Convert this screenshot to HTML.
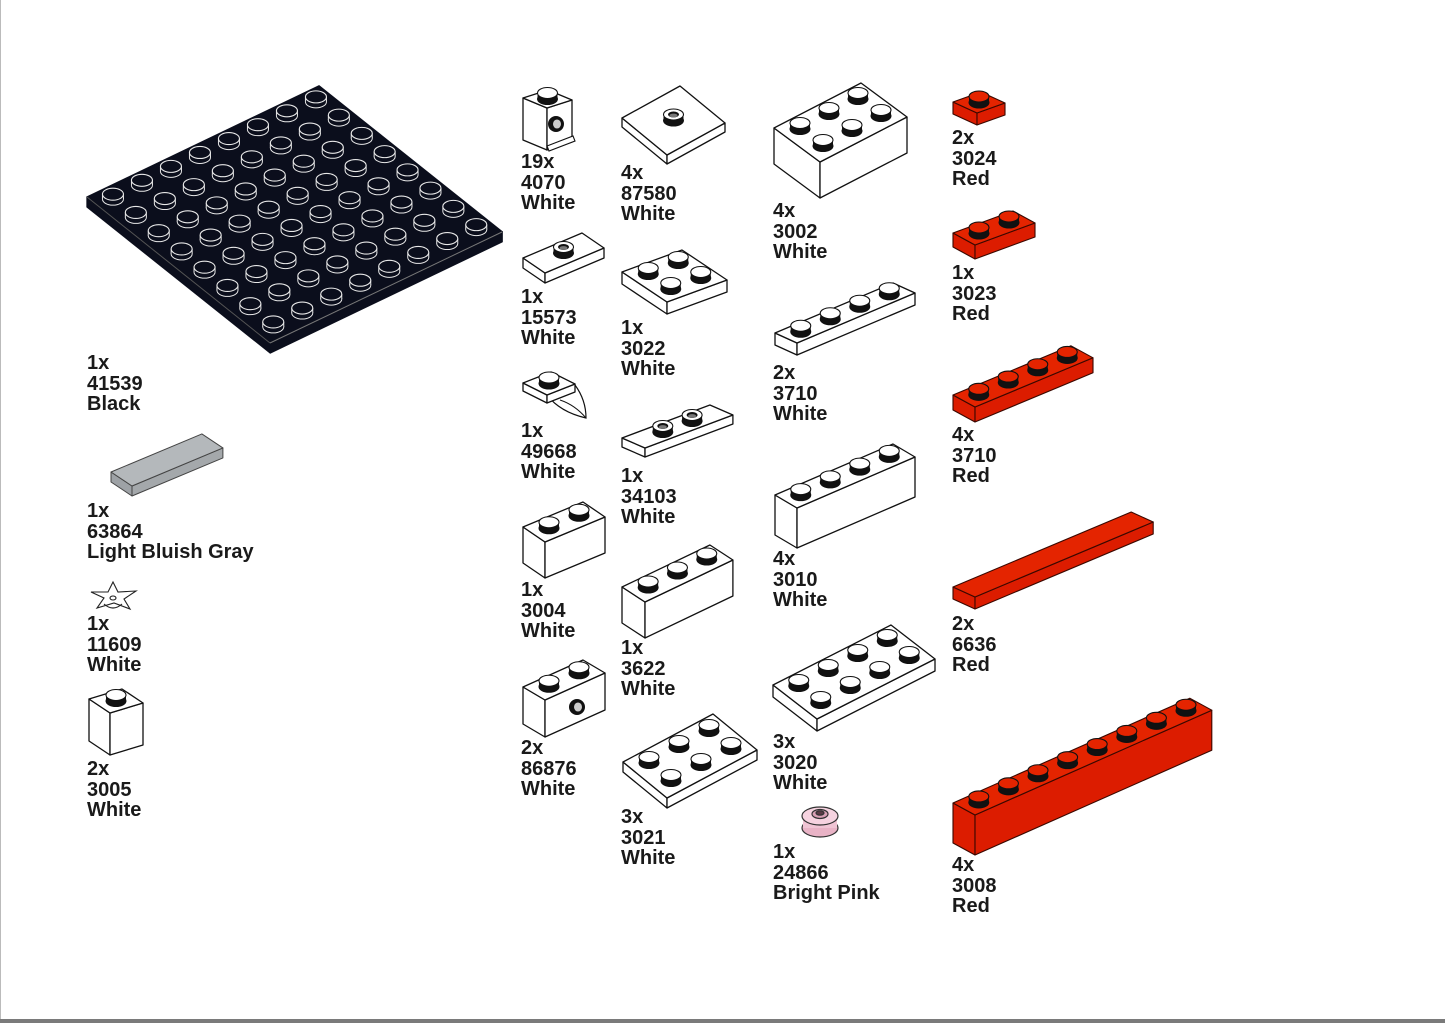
<!DOCTYPE html>
<html><head><meta charset="utf-8">
<style>
html,body{margin:0;padding:0;background:#fff}
body{width:1445px;height:1023px;position:relative;overflow:hidden;font-family:"Liberation Sans",Arial,sans-serif}
.frame{position:absolute;left:0;top:0;width:1px;height:1023px;background:#bbb}
.bot{position:absolute;left:0;top:1019px;width:1445px;height:4px;background:#7a7a7a}
.l{position:absolute;font-size:20px;line-height:20.5px;font-weight:bold;color:#1a1a1a;white-space:nowrap}
svg{position:absolute;left:0;top:0}
</style></head><body>
<div class="frame"></div>
<svg id="s" width="1445" height="1023" viewBox="0 0 1445 1023">
  <g stroke="#222" stroke-width="1.1" fill="#fff">
    <polygon points="113,582 118,592 136,591 124,599 130,609 114,603 97,608 104,598 91,592 108,592"/>
    <ellipse cx="113" cy="598" rx="3" ry="2"/>
    <path d="M104,604 Q113,612 122,604" fill="none"/>
  </g>
  <g stroke="#333" stroke-width="1.2">
    <ellipse cx="820" cy="828" rx="18" ry="9" fill="#e9b3c6"/>
    <rect x="803" y="816" width="34" height="12" fill="#f0c4d4" stroke="none"/>
    <ellipse cx="820" cy="816" rx="18" ry="9" fill="#f6d3e0"/>
    <ellipse cx="820" cy="814" rx="8" ry="4.5" fill="#d9a0b5"/>
    <ellipse cx="820" cy="813" rx="4" ry="2.2" fill="#5a3a45"/>
  </g>
</svg>
<script>
(function(){
var s=document.getElementById('s'),NS='http://www.w3.org/2000/svg';
function el(t,a,parent){var e=document.createElementNS(NS,t);for(var k in a)e.setAttribute(k,a[k]);(parent||s).appendChild(e);return e;}
function ad(p,v,k){return [p[0]+v[0]*k,p[1]+v[1]*k];}
function pts(a){return a.map(function(p){return p[0].toFixed(1)+','+p[1].toFixed(1)}).join(' ');}
function stud(c,o,jumper){
  var rx=o.srx||10,ry=o.sry||5.5,sh=o.sh||6,g=el('g',{});
  var st=o.studStroke||'#111';
  el('ellipse',{cx:c[0],cy:c[1],rx:rx,ry:ry,fill:o.studSide||'#111',stroke:st,'stroke-width':1},g);
  el('rect',{x:c[0]-rx,y:c[1]-sh,width:2*rx,height:sh,fill:o.studSide||'#111'},g);
  if(o.studStroke){el('line',{x1:c[0]-rx,y1:c[1]-sh,x2:c[0]-rx,y2:c[1],stroke:st,'stroke-width':1},g);el('line',{x1:c[0]+rx,y1:c[1]-sh,x2:c[0]+rx,y2:c[1],stroke:st,'stroke-width':1},g);}
  el('ellipse',{cx:c[0],cy:c[1]-sh,rx:rx,ry:ry,fill:o.top,stroke:st,'stroke-width':1.1},g);
  if(jumper){el('ellipse',{cx:c[0],cy:c[1]-sh,rx:rx*0.55,ry:ry*0.55,fill:'#111'},g);el('ellipse',{cx:c[0],cy:c[1]-sh+1,rx:rx*0.4,ry:ry*0.35,fill:'#777'},g);}
}
function part(o){
  var A=o.O,B=ad(A,o.W,o.m),C=ad(B,o.L,o.n),D=ad(A,o.L,o.n);
  var dn=function(p){return [p[0],p[1]+o.h]};
  var sw=o.sw||1.3,st=o.stroke||'#111';
  el('polygon',{points:pts([A,B,dn(B),dn(A)]),fill:o.left||o.top,stroke:st,'stroke-width':sw,'stroke-linejoin':'round'});
  el('polygon',{points:pts([B,C,dn(C),dn(B)]),fill:o.front||o.top,stroke:st,'stroke-width':sw,'stroke-linejoin':'round'});
  el('polygon',{points:pts([A,B,C,D]),fill:o.top,stroke:st,'stroke-width':sw,'stroke-linejoin':'round'});
  var cs=[];
  if(o.jumpers){o.jumpers.forEach(function(t){var c=ad(ad(A,o.W,o.m/2),o.L,t);cs.push([c,1]);});}
  else if(!o.nostuds){for(var i=0;i<o.m;i++)for(var j=0;j<o.n;j++){cs.push([ad(ad(A,o.W,i+.5),o.L,j+.5),0]);}}
  cs.sort(function(a,b){return a[0][1]-b[0][1]});
  cs.forEach(function(c){stud(c[0],o,c[1]);});
}
var W='#fff',R='#dc1c00',RT='#e42400';
part({O:[87,197],W:[22.9,18.25],L:[29,-13.9],m:8,n:8,h:10,top:'#0b0e1c',stroke:'#0b0e1c',studSide:'#0b0e1c',studStroke:'#e8e8e8',srx:10.5,sry:6,sh:5});
el('line',{x1:87,y1:197,x2:270,y2:343,stroke:'#555','stroke-width':1});
el('line',{x1:270,y1:343,x2:502,y2:232,stroke:'#777','stroke-width':1});
part({O:[111,472],W:[21,14],L:[30.3,-12.7],m:1,n:3,h:10,top:'#b4b8bb',left:'#9ea2a6',front:'#a4a8ab',nostuds:1,stroke:'#444',sw:1});
part({O:[89,699],W:[21,14],L:[33,-10],m:1,n:1,h:42,top:W});
part({O:[523,98],W:[24,10],L:[25,-8],m:1,n:1,h:42,top:W});
el('ellipse',{cx:556,cy:124,rx:8,ry:8,fill:'#111'});el('ellipse',{cx:557,cy:124,rx:4.5,ry:5,fill:'#ccc',stroke:'#111'});
el('polygon',{points:'547,146 573,136 575,141 549,151',fill:'#fff',stroke:'#111','stroke-width':1.1});
part({O:[523,258],W:[22,15],L:[29.5,-12.5],m:1,n:2,h:10,top:W,jumpers:[1]});
el('path',{d:'M547,395 L575,385 Q586,400 586,418 Q560,412 547,395 Z',fill:'#fff',stroke:'#111','stroke-width':1.2});
el('path',{d:'M560,400 Q575,405 586,418',fill:'none',stroke:'#111','stroke-width':1});
part({O:[523,383],W:[24,12],L:[28,-11],m:1,n:1,h:8,top:W});
part({O:[523,527],W:[22,15],L:[30,-12.5],m:1,n:2,h:36,top:W});
part({O:[523,687],W:[22,13],L:[30,-13.5],m:1,n:2,h:37,top:W});
el('ellipse',{cx:577,cy:707,rx:8,ry:8,fill:'#111'});el('ellipse',{cx:578,cy:707,rx:4.5,ry:5,fill:'#ccc',stroke:'#111'});
part({O:[622,118],W:[22.5,18.5],L:[29,-16],m:2,n:2,h:9,top:W,jumpers:[1]});
part({O:[622,272],W:[22.5,15],L:[30,-11],m:2,n:2,h:12,top:W});
part({O:[622,438],W:[23,10],L:[29.3,-11],m:1,n:3,h:9,top:W,jumpers:[1,2]});
part({O:[622,587],W:[23,15],L:[29.3,-14],m:1,n:3,h:36,top:W});
part({O:[623,762],W:[22,18],L:[30,-16],m:2,n:3,h:10,top:W});
part({O:[774,128],W:[23,17],L:[29,-15],m:2,n:3,h:36,top:W});
part({O:[775,333],W:[22,10],L:[29.5,-12.5],m:1,n:4,h:12,top:W});
part({O:[775,495],W:[22,13],L:[29.5,-12.75],m:1,n:4,h:40,top:W});
part({O:[773,685],W:[22,17],L:[29.5,-15],m:2,n:4,h:12,top:W});
var ro={top:RT,left:R,front:R,studSide:'#111',stroke:'#3a0800',sw:1.1};
function red(o){for(var k in ro)if(!(k in o))o[k]=ro[k];return part(o);}
red({O:[953,102],W:[24,11],L:[28,-10],m:1,n:1,h:12});
red({O:[953,233],W:[22,12],L:[30,-11],m:1,n:2,h:14});
red({O:[953,395],W:[22,12],L:[29.5,-12.3],m:1,n:4,h:15});
red({O:[953,587],W:[22,10],L:[29.7,-12.5],m:1,n:6,h:12,nostuds:1});
red({O:[953,803],W:[22,12],L:[29.6,-13.1],m:1,n:8,h:40});
})();
</script>
<div class="l" style="left:87px;top:353px">1x<br>41539<br>Black</div>
<div class="l" style="left:87px;top:501px">1x<br>63864<br>Light Bluish Gray</div>
<div class="l" style="left:87px;top:614px">1x<br>11609<br>White</div>
<div class="l" style="left:87px;top:759px">2x<br>3005<br>White</div>
<div class="l" style="left:521px;top:152px">19x<br>4070<br>White</div>
<div class="l" style="left:521px;top:287px">1x<br>15573<br>White</div>
<div class="l" style="left:521px;top:421px">1x<br>49668<br>White</div>
<div class="l" style="left:521px;top:580px">1x<br>3004<br>White</div>
<div class="l" style="left:521px;top:738px">2x<br>86876<br>White</div>
<div class="l" style="left:621px;top:163px">4x<br>87580<br>White</div>
<div class="l" style="left:621px;top:318px">1x<br>3022<br>White</div>
<div class="l" style="left:621px;top:466px">1x<br>34103<br>White</div>
<div class="l" style="left:621px;top:638px">1x<br>3622<br>White</div>
<div class="l" style="left:621px;top:807px">3x<br>3021<br>White</div>
<div class="l" style="left:773px;top:201px">4x<br>3002<br>White</div>
<div class="l" style="left:773px;top:363px">2x<br>3710<br>White</div>
<div class="l" style="left:773px;top:549px">4x<br>3010<br>White</div>
<div class="l" style="left:773px;top:732px">3x<br>3020<br>White</div>
<div class="l" style="left:773px;top:842px">1x<br>24866<br>Bright Pink</div>
<div class="l" style="left:952px;top:128px">2x<br>3024<br>Red</div>
<div class="l" style="left:952px;top:263px">1x<br>3023<br>Red</div>
<div class="l" style="left:952px;top:425px">4x<br>3710<br>Red</div>
<div class="l" style="left:952px;top:614px">2x<br>6636<br>Red</div>
<div class="l" style="left:952px;top:855px">4x<br>3008<br>Red</div>
<div class="bot"></div>
</body></html>
